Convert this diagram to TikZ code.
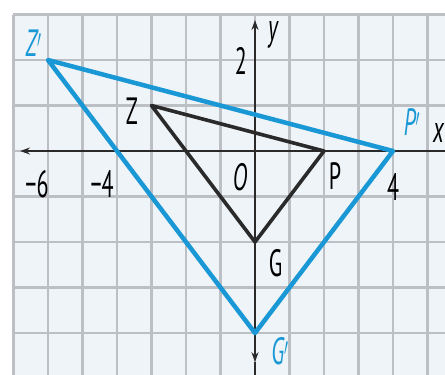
\documentclass[tikz,border=0pt]{standalone}
\usepackage{fontspec}
\setmainfont{PT Sans}
\usetikzlibrary{arrows.meta}
\definecolor{gridbg}{HTML}{EEF4F8}
\definecolor{gridln}{HTML}{BCC0C4}
\definecolor{imgblue}{HTML}{1A98D5}
\definecolor{axisc}{HTML}{2A2A2A}
\tikzset{
  lbl/.style={font=\fontsize{38}{38}\selectfont, inner sep=0pt, xscale=0.58},
  bluelbl/.style={lbl, text=imgblue, font=\fontsize{38}{38}\selectfont\itshape},
  gridline/.style={draw=gridln, line width=2.2pt},
  axisline/.style={draw=axisc, line width=1.8pt},
  tip/.style={-{Stealth[length=10pt,width=7pt]}},
  image/.style={draw=imgblue, line width=4.5pt, line join=round},
  preimage/.style={draw=axisc, line width=3.6pt, line join=round}
}
\begin{document}
\begin{tikzpicture}[x=34.5pt,y=45.5pt]
\useasboundingbox (-7.391,-4.901) rectangle (5.507,3.319);
\clip (-7.391,-4.901) rectangle (5.507,3.319);
\fill[white] (-7.391,-4.901) rectangle (5.507,3.319);
\fill[gridbg] (-7,-4.95) rectangle (5.6,3);
% grid
\foreach \i in {-7,...,5} \draw[gridline] (\i,-4.95) -- (\i,3);
\foreach \j in {-4,...,3} \draw[gridline] (-7,\j) -- (5.6,\j);
% axes
\coordinate (xl) at (-6.81,0);
\coordinate (xr) at (5.7,0);
\coordinate (yt) at (0,2.88);
\coordinate (yb) at (0,-4.64);
\coordinate (ye) at (0,-4.95);
\coordinate (O) at (0,0);
\draw[axisline,tip] (O) -- (xl);
\draw[axisline] (O) -- (xr);
\draw[axisline,tip] (O) -- (yt);
\draw[axisline,tip] (O) -- (yb);
\draw[axisline] (yb) -- (ye);
% vertices
\coordinate (Z) at (-3,1);
\coordinate (P) at (2,0);
\coordinate (G) at (0,-2);
\coordinate (Zp) at (-6,2);
\coordinate (Pp) at (4,0);
\coordinate (Gp) at (0,-4);
\draw[image] (Zp) -- (Pp) -- (Gp) -- cycle;
\draw[preimage] (Z) -- (P) -- (G) -- cycle;
% labels
\node[lbl] (lZ) at (-3.57,0.88) {Z};
\node[lbl] (lP) at (2.32,-0.55) {P};
\node[lbl] (lG) at (0.60,-2.46) {G};
\node[lbl] (lO) at (-0.43,-0.57) {\itshape O};
\node[bluelbl] (lZp) at (-6.42,2.37) {Z$'$};
\node[bluelbl] (lPp) at (4.55,0.64) {P$'$};
\node[bluelbl] (lGp) at (0.72,-4.40) {G$'$};
\node[lbl] (ly) at (0.52,2.55) {\itshape y};
\node[lbl] (lx) at (5.32,0.40) {\itshape x};
\node[lbl] (l2) at (-0.41,1.98) {2};
\node[lbl] (lm6) at (-6.32,-0.72) {\textminus6};
\node[lbl] (lm4) at (-4.43,-0.72) {\textminus4};
\node[lbl] (l4) at (4.0,-0.80) {4};
\end{tikzpicture}
\end{document}
